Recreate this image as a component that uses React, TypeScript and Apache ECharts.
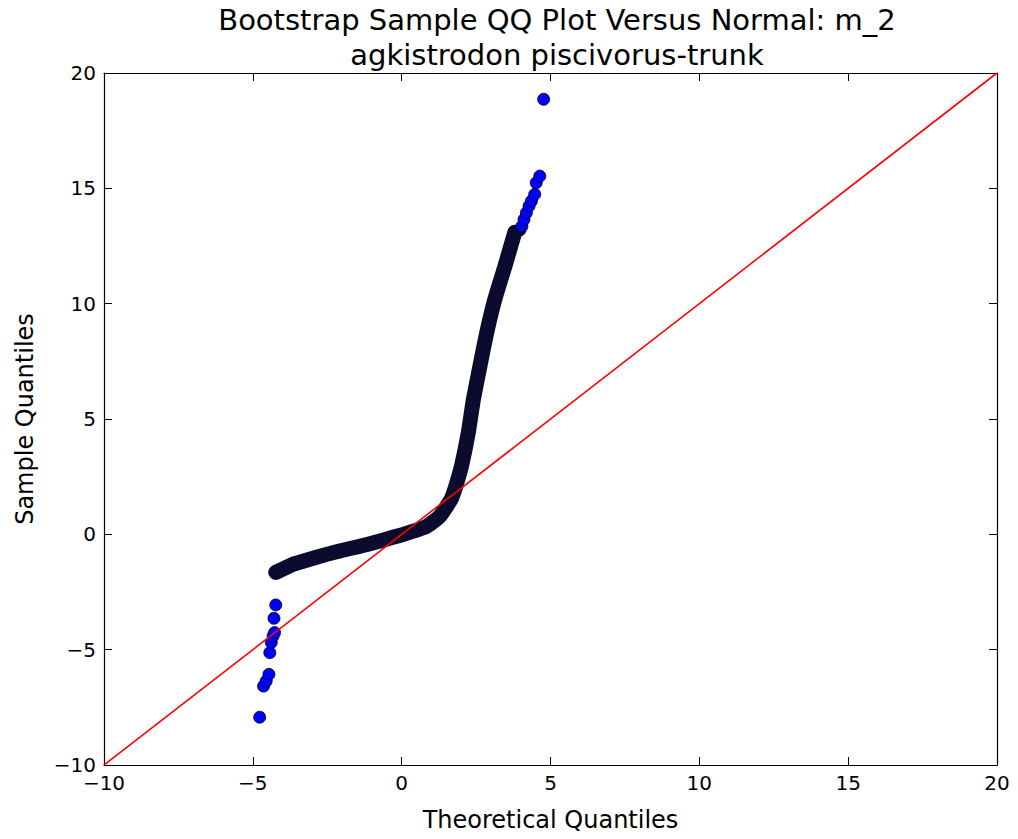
import React, { useEffect, useRef } from "react";
import * as echarts from "echarts";

const titleText = "Bootstrap Sample QQ Plot Versus Normal: m_2\nagkistrodon piscivorus-trunk";
const xName = "Theoretical Quantiles";
const yName = "Sample Quantiles";

// dense band of overlapping points (theoretical, sample)
const densePoints: [number, number][] = [
  [-4.23, -1.65], [-3.95, -1.48], [-3.66, -1.3], [-3.09, -1.08], [-2.52, -0.87],
  [-1.98, -0.69], [-1.41, -0.52], [-0.85, -0.33], [-0.3, -0.13], [0.27, 0.09],
  [0.84, 0.35], [1.28, 0.78], [1.66, 1.52], [1.82, 2.1], [2.01, 2.96],
  [2.24, 4.42], [2.41, 5.85], [2.63, 7.3], [2.86, 8.76], [3.13, 10.19],
  [3.47, 11.63], [3.8, 13.09],
];

// individually visible points in the tails
const lowTail: [number, number][] = [
  [-4.77, -7.93], [-4.64, -6.58], [-4.55, -6.36], [-4.46, -6.07], [-4.43, -5.13],
  [-4.38, -4.69], [-4.32, -4.41], [-4.27, -4.26], [-4.29, -3.64], [-4.23, -3.06],
];
const highTail: [number, number][] = [
  [3.97, 13.2], [4.04, 13.36], [4.11, 13.65], [4.19, 13.94], [4.28, 14.23], [4.36, 14.45],
  [4.47, 14.74], [4.52, 15.24], [4.64, 15.53], [4.77, 18.86],
];

const refLine: [number, number][] = [[-10, -10], [20, 20]];

const xTicks = { min: -10, max: 20, interval: 5 };
const yTicks = { min: -10, max: 20, interval: 5 };

const FONT = "DejaVu Sans";
const fmt = (v: number) => (v < 0 ? "\u2212" + Math.abs(v) : String(v));

export default function App() {
  const ref = useRef<HTMLDivElement>(null);
  useEffect(() => {
    if (!ref.current) return;
    const chart = echarts.init(ref.current, undefined, { renderer: "svg" });
    const axisCommon = {
      type: "value" as const,
      splitLine: { show: false },
      axisLine: { show: true, onZero: false, lineStyle: { color: "#000", width: 1.2 } },
      axisTick: { show: true, inside: true, length: 8, lineStyle: { color: "#000", width: 1 } },
    };
    const dense = "#0b0b2e";
    chart.setOption({
      animation: false,
      backgroundColor: "#fff",
      title: {
        text: titleText,
        left: 552,
        top: -3,
        textAlign: "center",
        textStyle: { fontFamily: FONT, fontSize: 29, fontWeight: "normal", color: "#000", lineHeight: 35 },
      },
      grid: { left: 104, right: 21, top: 73, bottom: 74, containLabel: false },
      xAxis: [
        {
          ...axisCommon,
          ...xTicks,
          position: "bottom",
          axisLabel: { fontFamily: FONT, fontSize: 20, color: "#000", margin: 8, formatter: fmt },
          name: xName,
          nameLocation: "middle",
          nameGap: 43,
          nameTextStyle: { fontFamily: FONT, fontSize: 24, color: "#000" },
        },
        { ...axisCommon, ...xTicks, position: "top", axisLabel: { show: false } },
      ],
      yAxis: [
        {
          ...axisCommon,
          ...yTicks,
          position: "left",
          axisLabel: { fontFamily: FONT, fontSize: 20, color: "#000", margin: 8, formatter: fmt },
          name: yName,
          nameLocation: "middle",
          nameGap: 67,
          nameTextStyle: { fontFamily: FONT, fontSize: 24, color: "#000" },
        },
        { ...axisCommon, ...yTicks, position: "right", axisLabel: { show: false } },
      ],
      series: [
        {
          type: "line",
          data: densePoints,
          smooth: 0.15,
          symbol: "none",
          lineStyle: { color: dense, width: 15, cap: "round", join: "round" },
          z: 2,
        },
        {
          type: "scatter",
          data: densePoints,
          symbolSize: 13,
          itemStyle: { color: dense, opacity: 1 },
          z: 2,
        },
        {
          type: "scatter",
          data: highTail.slice(0, 1),
          symbolSize: 13,
          itemStyle: { color: dense, opacity: 1 },
          z: 2,
        },
        {
          type: "scatter",
          data: [...lowTail, ...highTail.slice(1)],
          symbolSize: 12,
          itemStyle: { color: "#0000ff", borderColor: "#000", borderWidth: 0.8, opacity: 1 },
          z: 3,
        },
        {
          type: "line",
          data: refLine,
          symbol: "none",
          lineStyle: { color: "#ff0000", width: 1.6 },
          z: 4,
        },
      ],
    });
    return () => chart.dispose();
  }, []);
  return <div ref={ref} style={{ position: "absolute", left: 0, top: 0, width: 1018, height: 839 }} />;
}
